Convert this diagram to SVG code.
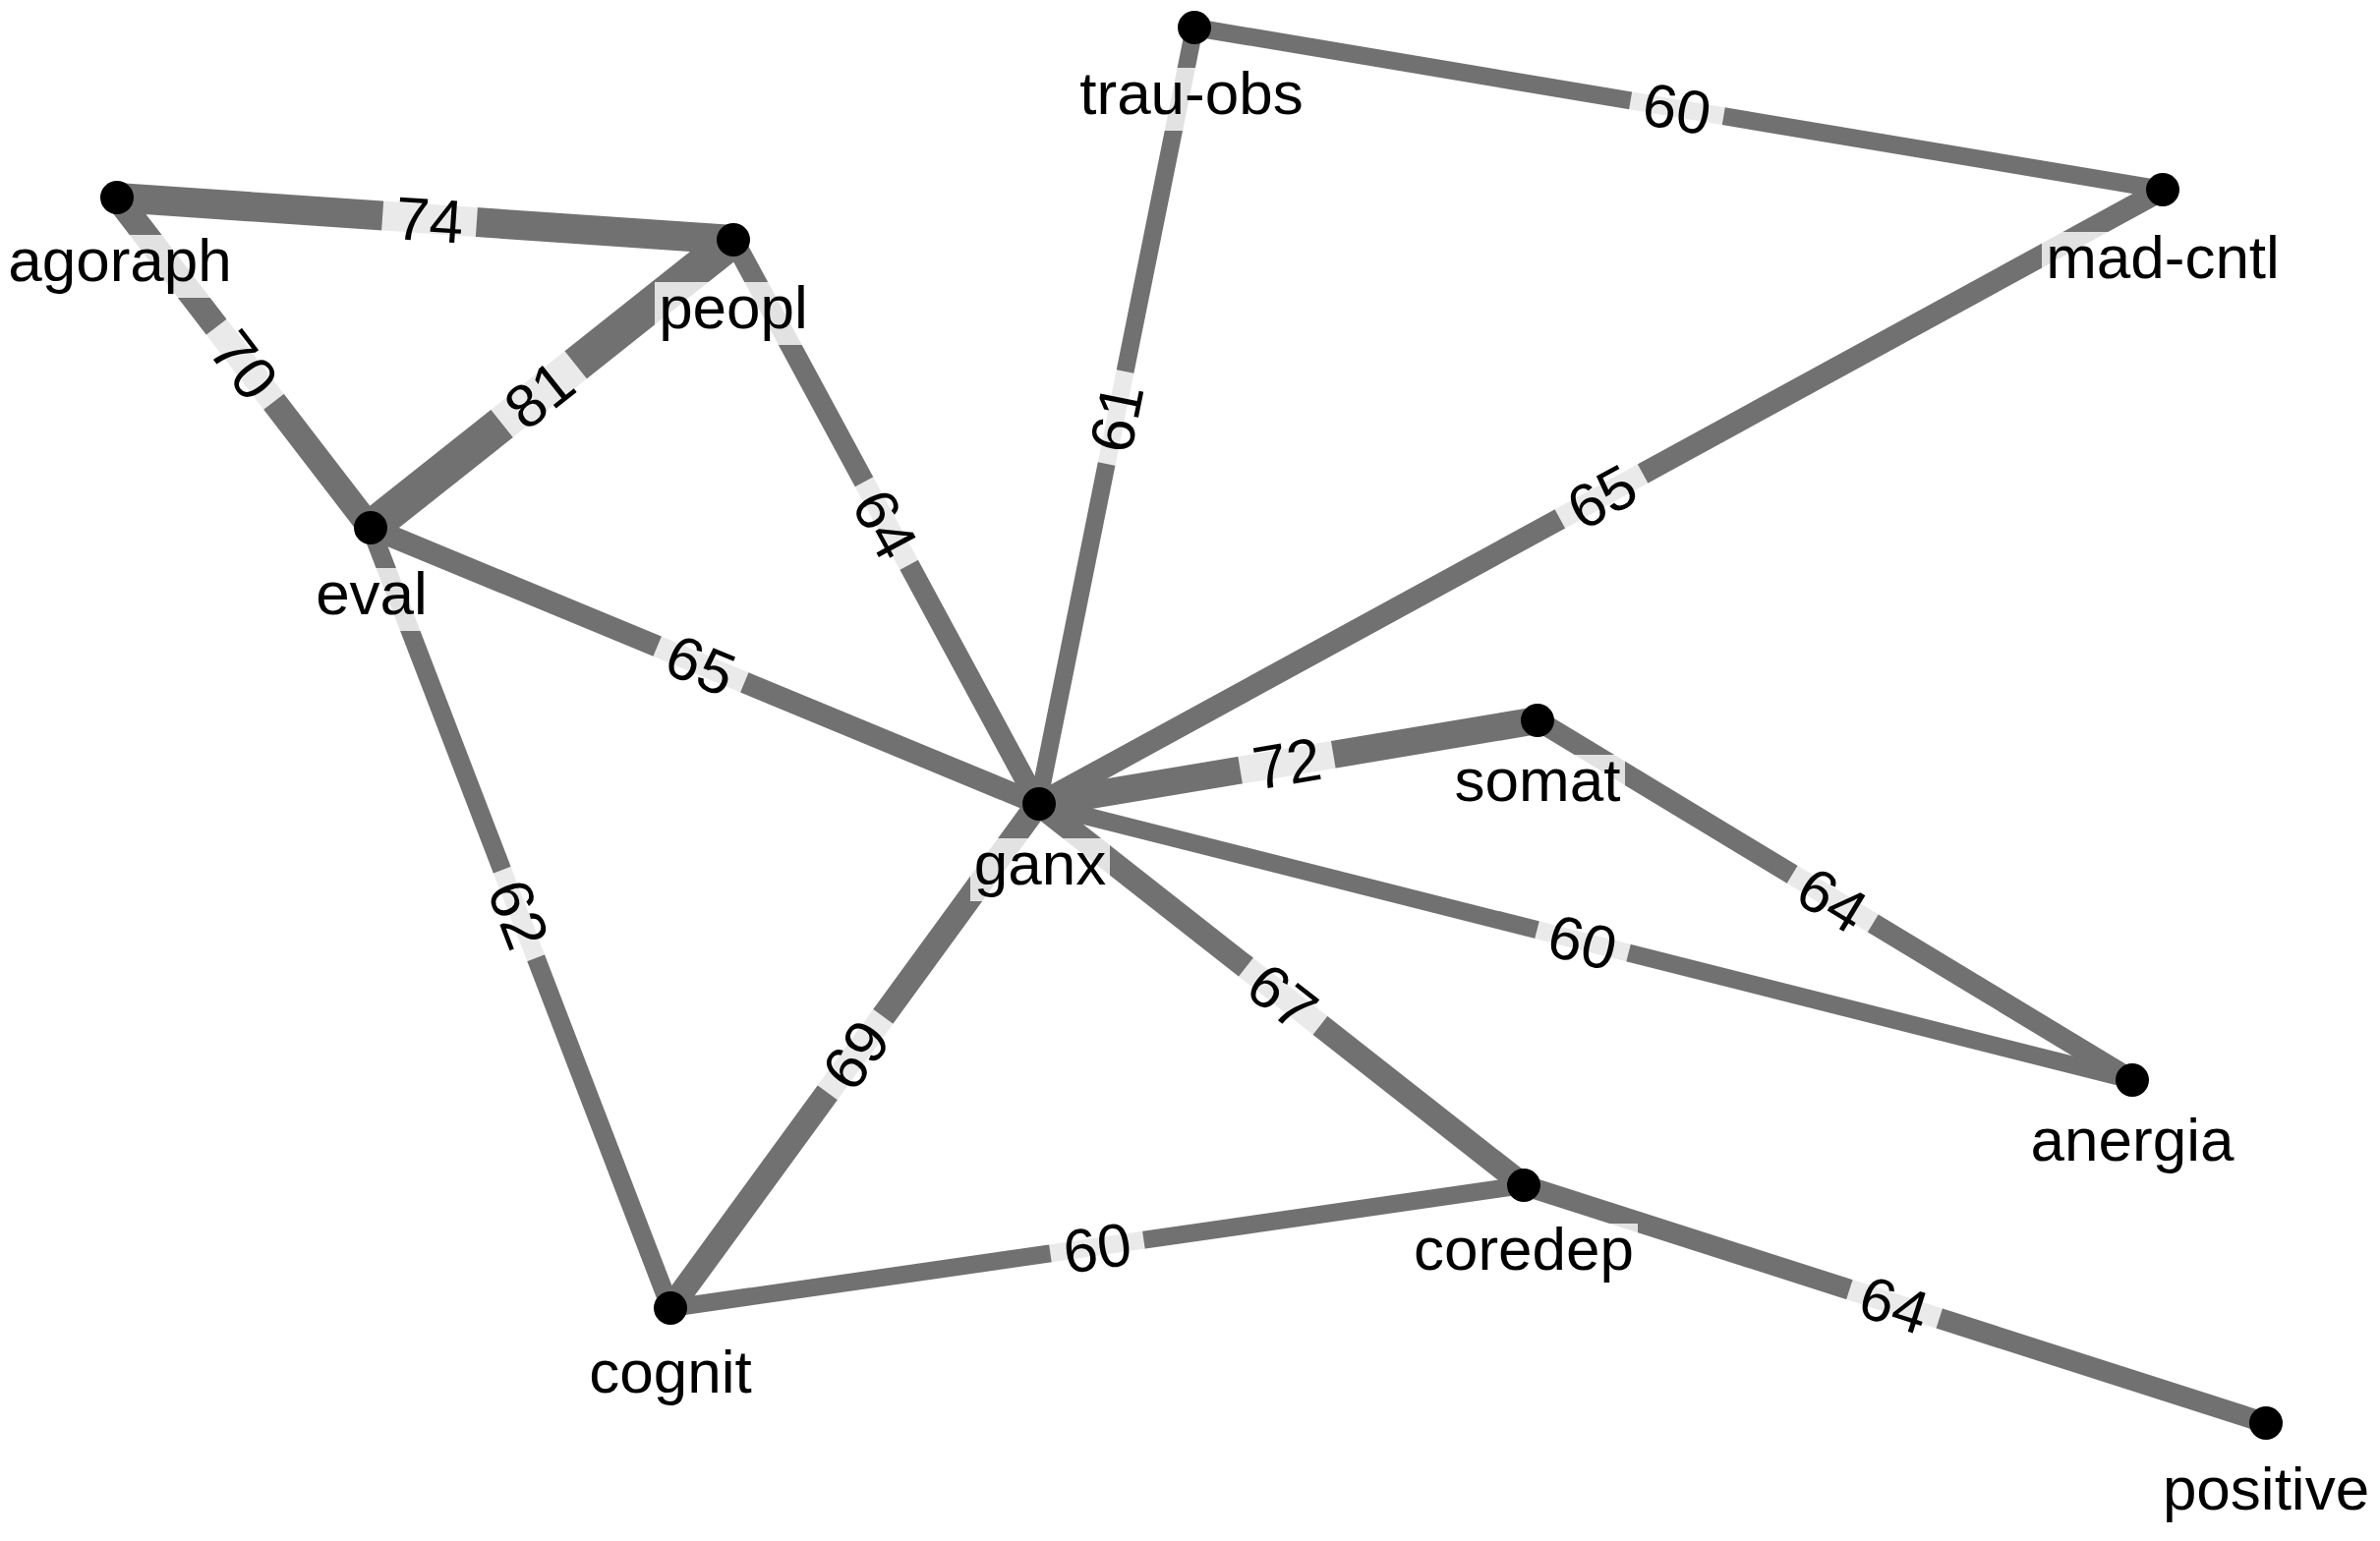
<svg xmlns="http://www.w3.org/2000/svg" width="2421" height="1568" viewBox="0 0 2421 1568">
<style>
.e{stroke:#717171;stroke-linecap:butt;fill:none}
.lb{fill:#ffffff;fill-opacity:0.85}
.el{font-family:"Liberation Sans",Arial,sans-serif;font-size:62px;fill:#000;text-anchor:middle}
.nd{fill:#000}
.nb{fill:#ffffff;fill-opacity:0.8}
.nl{font-family:"Liberation Sans",Arial,sans-serif;font-size:62px;fill:#000;text-anchor:middle}
</style>
<rect width="2421" height="1568" fill="#ffffff"/>
<g id="connectors">
<line class="e" x1="119" y1="201" x2="746" y2="244" stroke-width="30"/>
<line class="e" x1="119" y1="201" x2="377" y2="537" stroke-width="26"/>
<line class="e" x1="377" y1="537" x2="746" y2="244" stroke-width="36"/>
<line class="e" x1="746" y1="244" x2="1056" y2="818" stroke-width="21"/>
<line class="e" x1="1215" y1="28" x2="1056" y2="818" stroke-width="18"/>
<line class="e" x1="1215" y1="28" x2="2200" y2="193" stroke-width="18"/>
<line class="e" x1="1056" y1="818" x2="2200" y2="193" stroke-width="22"/>
<line class="e" x1="377" y1="537" x2="1056" y2="818" stroke-width="22"/>
<line class="e" x1="1056" y1="818" x2="1564" y2="733" stroke-width="28"/>
<line class="e" x1="1564" y1="733" x2="2169" y2="1099" stroke-width="21"/>
<line class="e" x1="1056" y1="818" x2="2169" y2="1099" stroke-width="18"/>
<line class="e" x1="377" y1="537" x2="682" y2="1331" stroke-width="19"/>
<line class="e" x1="682" y1="1331" x2="1056" y2="818" stroke-width="25"/>
<line class="e" x1="1056" y1="818" x2="1550" y2="1206" stroke-width="24"/>
<line class="e" x1="682" y1="1331" x2="1550" y2="1206" stroke-width="18"/>
<line class="e" x1="1550" y1="1206" x2="2305" y2="1448" stroke-width="21"/>

<g transform="translate(437,223) rotate(3.9)"><rect class="lb" x="-48" y="-30" width="96" height="60"/><text class="el" dy="0.36em">74</text></g>
<g transform="translate(249,371) rotate(52.5)"><rect class="lb" x="-48" y="-30" width="96" height="60"/><text class="el" dy="0.36em">70</text></g>
<g transform="translate(548,401) rotate(-38.5)"><rect class="lb" x="-48" y="-30" width="96" height="60"/><text class="el" dy="0.36em">81</text></g>
<g transform="translate(901,533) rotate(61.6)"><rect class="lb" x="-48" y="-30" width="96" height="60"/><text class="el" dy="0.36em">64</text></g>
<g transform="translate(1135,425) rotate(-78.6)"><rect class="lb" x="-48" y="-30" width="96" height="60"/><text class="el" dy="0.36em">61</text></g>
<g transform="translate(1706,110) rotate(9.5)"><rect class="lb" x="-48" y="-30" width="96" height="60"/><text class="el" dy="0.36em">60</text></g>
<g transform="translate(1629,505) rotate(-28.6)"><rect class="lb" x="-48" y="-30" width="96" height="60"/><text class="el" dy="0.36em">65</text></g>
<g transform="translate(713,676) rotate(22.5)"><rect class="lb" x="-48" y="-30" width="96" height="60"/><text class="el" dy="0.36em">65</text></g>
<g transform="translate(1309,776) rotate(-9.5)"><rect class="lb" x="-48" y="-30" width="96" height="60"/><text class="el" dy="0.36em">72</text></g>
<g transform="translate(1864,915) rotate(31.2)"><rect class="lb" x="-48" y="-30" width="96" height="60"/><text class="el" dy="0.36em">64</text></g>
<g transform="translate(1610,958) rotate(14.2)"><rect class="lb" x="-48" y="-30" width="96" height="60"/><text class="el" dy="0.36em">60</text></g>
<g transform="translate(528,930) rotate(69)"><rect class="lb" x="-48" y="-30" width="96" height="60"/><text class="el" dy="0.36em">62</text></g>
<g transform="translate(870,1073) rotate(-53.9)"><rect class="lb" x="-48" y="-30" width="96" height="60"/><text class="el" dy="0.36em">69</text></g>
<g transform="translate(1305,1014) rotate(38.1)"><rect class="lb" x="-48" y="-30" width="96" height="60"/><text class="el" dy="0.36em">67</text></g>
<g transform="translate(1116,1269) rotate(-8.2)"><rect class="lb" x="-48" y="-30" width="96" height="60"/><text class="el" dy="0.36em">60</text></g>
<g transform="translate(1927,1327) rotate(17.8)"><rect class="lb" x="-48" y="-30" width="96" height="60"/><text class="el" dy="0.36em">64</text></g>
</g>

<g id="node-trau-obs"><rect class="nb" x="1095" y="69" width="235" height="64"/><text class="nl" x="1212" y="116">trau-obs</text><circle class="nd" cx="1215" cy="28" r="17"/></g>
<g id="node-mad-cntl"><rect class="nb" x="2077" y="236" width="246" height="64"/><text class="nl" x="2200" y="283">mad-cntl</text><circle class="nd" cx="2200" cy="193" r="17"/></g>
<g id="node-agoraph"><rect class="nb" x="5" y="239" width="235" height="64"/><text class="nl" x="122" y="286">agoraph</text><circle class="nd" cx="119" cy="201" r="17"/></g>
<g id="node-peopl"><rect class="nb" x="666" y="287" width="160" height="64"/><text class="nl" x="746" y="334">peopl</text><circle class="nd" cx="746" cy="244" r="17"/></g>
<g id="node-eval"><rect class="nb" x="317" y="578" width="122" height="64"/><text class="nl" x="378" y="625">eval</text><circle class="nd" cx="377" cy="537" r="17"/></g>
<g id="node-ganx"><rect class="nb" x="987" y="853" width="142" height="64"/><text class="nl" x="1058" y="900">ganx</text><circle class="nd" cx="1057" cy="818" r="17"/></g>
<g id="node-somat"><rect class="nb" x="1476" y="768" width="177" height="64"/><text class="nl" x="1564" y="815">somat</text><circle class="nd" cx="1564" cy="733" r="17"/></g>
<g id="node-anergia"><rect class="nb" x="2062" y="1134" width="215" height="64"/><text class="nl" x="2169" y="1181">anergia</text><circle class="nd" cx="2169" cy="1099" r="17"/></g>
<g id="node-coredep"><rect class="nb" x="1434" y="1245" width="232" height="64"/><text class="nl" x="1550" y="1292">coredep</text><circle class="nd" cx="1550" cy="1206" r="17"/></g>
<g id="node-cognit"><rect class="nb" x="596" y="1370" width="173" height="64"/><text class="nl" x="682" y="1417">cognit</text><circle class="nd" cx="682" cy="1331" r="17"/></g>
<g id="node-positive"><rect class="nb" x="2196" y="1489" width="218" height="64"/><text class="nl" x="2305" y="1536">positive</text><circle class="nd" cx="2305" cy="1448" r="17"/></g>
</svg>
